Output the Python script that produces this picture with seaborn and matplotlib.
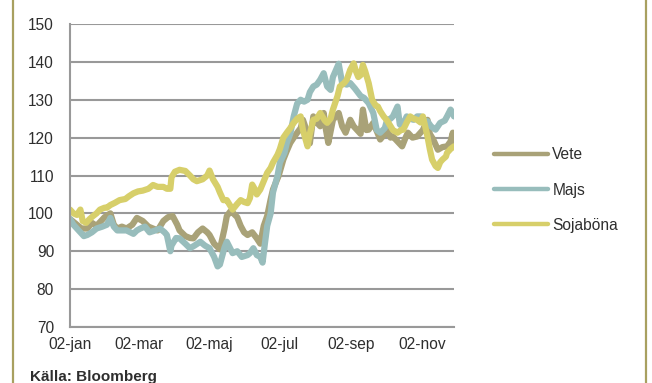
# -*- coding: utf-8 -*-
import pandas as pd
import matplotlib
matplotlib.use("Agg")
import matplotlib.pyplot as plt
import seaborn as sns
from matplotlib.lines import Line2D

# Dagar efter 2 januari och indexvärden (start = 100)
vete_dag = [0, 6, 10, 15, 19, 23, 30, 35, 38, 41, 45, 49, 54, 58, 63, 68, 72, 76, 81, 85,
            89, 93, 95, 100, 104, 107, 111, 115, 119, 121, 125, 130, 134, 136, 139, 141, 145, 148, 151, 154,
            158, 162, 165, 168, 171, 174, 176, 181, 185, 188, 191, 194, 197, 200, 202, 205, 207, 208, 211, 214,
            217, 220, 222, 224, 228, 233, 236, 239, 243, 246, 249, 252, 254, 257, 259, 263, 267, 269, 273, 275,
            278, 280, 284, 288, 291, 293, 297, 301, 306, 310, 312, 315, 319, 323, 327, 330, 332, 333]
vete = [98.5, 97, 96, 96, 97.5, 96.7, 99, 100, 97, 96, 96.5, 96, 97, 98.8, 98, 96.5, 96, 95.5, 98, 99,
        99.3, 97, 95.5, 94, 93.5, 93.4, 95, 96, 95, 94.3, 92, 90.5, 96, 99.3, 100.5, 100.2, 99, 96.7, 95, 94.3,
        95, 93.4, 92, 96.7, 99.3, 103.7, 106.3, 110, 114.2, 116.5, 118.6, 120, 121.3, 122.5, 124.7, 122, 120.3, 118.5, 125.6, 124,
        123, 126.5, 122, 118.6, 124.7, 126.5, 123, 121.3, 124.7, 123, 122, 121, 127.4, 122, 122.1, 123.9, 121, 119.5, 121, 122.1,
        120, 120.3, 119, 117.7, 120, 121.3, 120, 120.3, 122, 124.7, 121, 119.5, 116.8, 117.5, 117.7, 119, 121.3, 117.7]

majs_dag = [0, 3, 9, 12, 15, 19, 23, 28, 32, 35, 38, 41, 45, 49, 55, 58, 61, 65, 69, 74,
            78, 82, 84, 87, 88, 92, 95, 100, 104, 108, 113, 117, 121, 125, 128, 130, 134, 136, 141, 145,
            149, 154, 156, 159, 162, 165, 167, 169, 171, 174, 176, 180, 182, 186, 188, 191, 194, 197, 200, 203,
            206, 208, 211, 214, 217, 220, 223, 226, 228, 233, 236, 240, 243, 247, 252, 255, 259, 263, 266, 269,
            273, 275, 278, 280, 284, 286, 288, 292, 295, 298, 301, 304, 307, 310, 313, 317, 321, 325, 327, 330,
            332, 333]
majs = [98.5, 97, 95, 94, 94.3, 95, 96, 96.5, 97, 98.8, 96.5, 95.5, 95.5, 95.5, 94.6, 95.5, 96, 96.5, 95, 95.5,
        96, 95, 94.3, 90, 91.5, 93.5, 93.4, 92, 90.8, 91.5, 92.5, 91.5, 90.8, 88.5, 86, 86.5, 91, 92.5, 89.5, 90,
        88.5, 89, 89.5, 90.8, 89, 88.5, 87, 92, 96.7, 100, 105.5, 110, 113.4, 116, 118.6, 121, 125.6, 129, 130, 129.5,
        130, 132, 133.5, 134, 135.3, 137, 133.5, 132.6, 136, 139.5, 134.4, 134, 134.4, 133, 131, 130.5, 129.1, 126.5, 122, 121.3,
        122.5, 124.7, 125, 125.6, 128.2, 123.5, 123, 125.6, 125, 124.7, 125.6, 125.6, 124.5, 124.3, 123, 122.1, 123.9, 124.5, 125.6, 127.4,
        126.5, 125.6]

soja_dag = [0, 3, 6, 9, 11, 14, 17, 20, 23, 26, 30, 32, 35, 39, 43, 48, 51, 55, 59, 63,
            68, 72, 76, 81, 84, 87, 88, 91, 95, 100, 104, 107, 110, 113, 115, 119, 121, 124, 128, 130,
            133, 136, 139, 141, 145, 148, 151, 154, 156, 158, 161, 162, 165, 168, 171, 174, 176, 180, 182, 185,
            188, 191, 194, 197, 200, 202, 206, 208, 211, 214, 217, 221, 223, 226, 228, 232, 234, 238, 240, 243,
            246, 248, 250, 252, 254, 256, 259, 262, 265, 267, 269, 272, 275, 278, 280, 284, 287, 289, 292, 295,
            298, 301, 304, 306, 308, 310, 312, 314, 317, 319, 321, 323, 326, 327, 330, 333]
soja = [101, 100, 99.6, 101, 98, 97.5, 98.5, 99.3, 100, 101, 101.5, 101.5, 102.2, 102.8, 103.5, 103.8, 104.5, 105.3, 105.8, 106,
        106.5, 107.5, 107, 107, 106.5, 106.5, 109.5, 111, 111.5, 111.2, 110, 109, 108.5, 108.8, 109, 110, 111.3, 109, 107, 105.5,
        103.5, 103.5, 102, 101, 102.5, 103.5, 103, 102.7, 104, 107.6, 106, 105, 106.3, 108.5, 110.7, 112, 113.4, 115.5, 117, 120,
        121.3, 122.5, 123.9, 125, 125.6, 122, 117.7, 121, 124.7, 125, 126.5, 124.5, 123.9, 125, 127.4, 131, 133.5, 134.5, 135.3, 137.9,
        139.6, 137.5, 136, 136.5, 139.2, 137.5, 134.4, 130, 128.5, 128.2, 127, 125.6, 124.5, 123, 122, 121.3, 122, 122.1, 124, 125.6,
        125, 124.7, 124, 125.6, 123, 120.3, 117, 114.2, 112.5, 112, 113.5, 114.2, 115, 116, 117, 117.7]

serier = ["Vete", "Majs", "Sojaböna"]
farger = ["#A9A278", "#98BDBC", "#D7CF6A"]
tick_datum = ["2012-01-02", "2012-03-02", "2012-05-02", "2012-07-02", "2012-09-02", "2012-11-02"]
tick_etiketter = ["02-jan", "02-mar", "02-maj", "02-jul", "02-sep", "02-nov"]
kalla = "Källa: Bloomberg"

# Bygg en lång tabell
start = pd.Timestamp("2012-01-02")
delar = []
for namn, dagar, varden in zip(serier, [vete_dag, majs_dag, soja_dag], [vete, majs, soja]):
    delar.append(pd.DataFrame({"Datum": start + pd.to_timedelta(dagar, unit="D"),
                               "Index": varden, "Serie": namn}))
df = pd.concat(delar, ignore_index=True)

sns.set_style("white")
plt.rcParams["font.family"] = ["Liberation Sans", "DejaVu Sans"]
textfarg = "#2e2e2e"
gra = "#999999"

fig = plt.figure(figsize=(6.52, 3.83), dpi=100)
ax = fig.add_axes([70 / 652, 1 - 327 / 383, 384 / 652, 303 / 383])

sns.lineplot(data=df, x="Datum", y="Index", hue="Serie", hue_order=serier,
             palette=dict(zip(serier, farger)), linewidth=4.5, ax=ax, legend=False)

ax.set_ylim(70, 150)
ax.set_yticks(range(70, 151, 10))
ax.set_xlim(start, df["Datum"].max())
ax.set_xticks(pd.to_datetime(tick_datum))
ax.set_xticklabels(tick_etiketter)
ax.set_xlabel("")
ax.set_ylabel("")
ax.grid(axis="y", color=gra, linewidth=1.5)
ax.set_axisbelow(True)
for s in ["top", "right"]:
    ax.spines[s].set_visible(False)
for s in ["left", "bottom"]:
    ax.spines[s].set_color(gra)
    ax.spines[s].set_linewidth(1.5)
ax.tick_params(axis="both", colors=gra, labelcolor=textfarg, labelsize=11.2, length=3.5, width=1.5,
               direction="out")
ax.tick_params(axis="y", pad=8)
ax.tick_params(axis="x", pad=4)

# Legend till höger
handtag = [Line2D([0], [0], color=f, linewidth=3.2) for f in farger]
fig.legend(handtag, serier, loc="center left", bbox_to_anchor=(494 / 652, 1 - 190 / 383),
           frameon=False, fontsize=11.2, handlelength=3.5, handletextpad=0.25, labelspacing=1.3,
           borderpad=0, borderaxespad=0, labelcolor=textfarg)

fig.text(30 / 652, 1 - 381 / 383, kalla, fontsize=11, fontweight="bold", color=textfarg,
         ha="left", va="baseline")

# Ram
ramfarg = "#A8A060"
fig.add_artist(Line2D([12.5 / 652, 12.5 / 652], [0, 1], color=ramfarg, linewidth=1.6))
fig.add_artist(Line2D([645.5 / 652, 645.5 / 652], [0, 1], color=ramfarg, linewidth=1.6))

fig.savefig("out.png", dpi=100)
